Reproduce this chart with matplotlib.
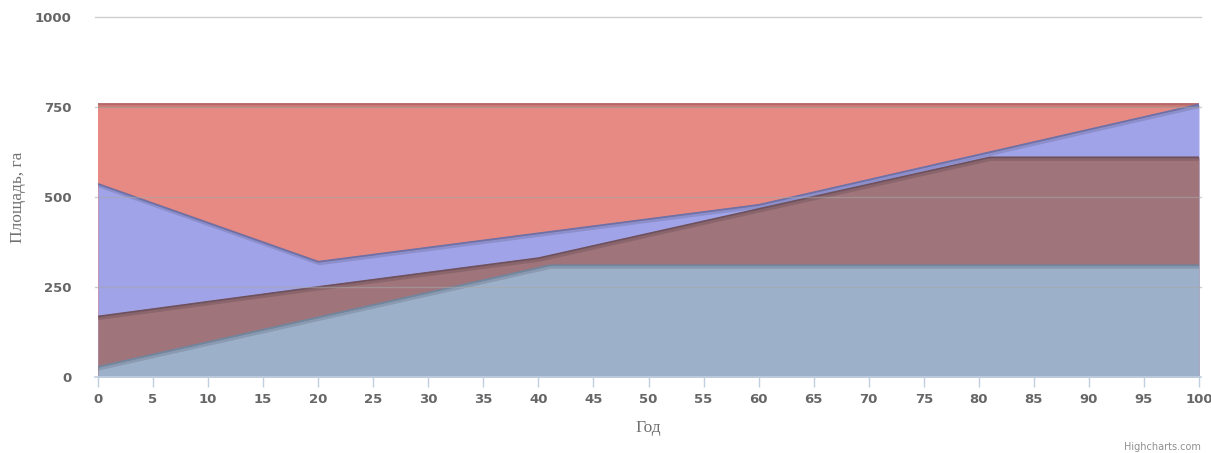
import matplotlib
matplotlib.use('Agg')
import matplotlib.pyplot as plt
import matplotlib.patheffects as pe

# series boundaries (top edge of each area)
x_red = [0, 100]
red_top = [757, 757]

x_blue = [0, 20, 60, 100]
blue_top = [536, 320, 478, 757]

x_brown = [0, 20, 40, 81, 100]
brown_top = [168, 250, 330, 610, 610]

x_steel = [0, 41, 100]
steel_top = [28, 310, 310]

x_ticks = list(range(0, 101, 5))
y_ticks = [0, 250, 500, 750, 1000]

W, H = 1211, 453
fig = plt.figure(figsize=(W / 100, H / 100), dpi=100)
left, right, top, bottom = 98, 1199, 17, 377
ax = fig.add_axes([left / W, 1 - bottom / H, (right - left) / W, (bottom - top) / H])
ax.set_xlim(0, 100)
ax.set_ylim(0, 1000)

layers = [
    (x_red, red_top, '#e88a84', '#b56468'),
    (x_blue, blue_top, '#a0a3e8', '#6d71a8'),
    (x_brown, brown_top, '#9f747b', '#70505a'),
    (x_steel, steel_top, '#9db0ca', '#71879f'),
]
shadow = [pe.SimpleLineShadow(offset=(0.8, -1), shadow_color='black', alpha=0.12, linewidth=3),
          pe.Normal()]
for i, (xs, ys, fill, line) in enumerate(layers):
    ax.fill_between(xs, 0, ys, color=fill, linewidth=0, zorder=1 + i * 0.1)
    ax.plot(xs, ys, color=line, linewidth=1.3, zorder=2 + i * 0.1,
            solid_joinstyle='round', path_effects=shadow)

# grid lines (slightly wider than plot, as in the original)
for y in y_ticks[1:]:
    ax.plot([-0.3, 100.2], [y, y], color='#a8a8a8', alpha=0.55, linewidth=1,
            zorder=5, clip_on=False)
ax.plot([-0.3, 100.2], [0, 0], color='#c0d0e0', linewidth=1.2, zorder=5, clip_on=False)

for s in ax.spines.values():
    s.set_visible(False)

ax.set_xticks(x_ticks)
ax.set_yticks(y_ticks)
ax.tick_params(axis='x', length=7.5, width=1, color='#c0d0e0', pad=4,
               labelsize=9.5, labelcolor='#666666')
ax.tick_params(axis='y', length=0, pad=19, labelsize=9.5, labelcolor='#666666')
for lab in ax.get_xticklabels() + ax.get_yticklabels():
    lab.set_fontweight('bold')

ax.set_xlabel('Год', fontfamily='Liberation Serif', fontsize=12.5, color='#707070', labelpad=10)
ax.set_ylabel('Площадь, га', fontfamily='Liberation Serif', fontsize=12.5, color='#707070', labelpad=6)

fig.text(1201 / W, 1 - 447 / H, 'Highcharts.com', ha='right', va='center',
         fontsize=7, color='#909090')

fig.savefig('out.png', dpi=100)
